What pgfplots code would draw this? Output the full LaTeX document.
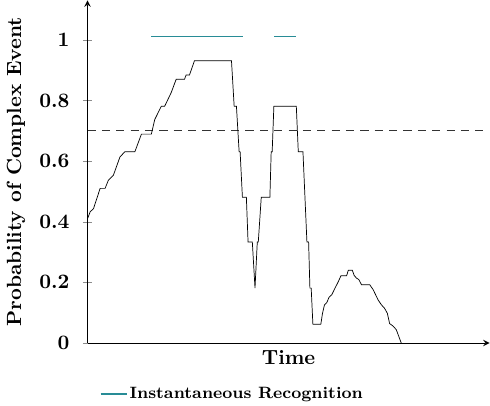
\documentclass[border=0pt]{standalone}
\usepackage{pgfplots}
\pgfplotsset{compat=1.18}
\definecolor{recog}{RGB}{40,140,150}
\begin{document}
\begin{tikzpicture}
\begin{axis}[
  scale only axis,
  width=196pt, height=167pt,
  axis lines=left,
  axis line style={-stealth},
  xmin=84, xmax=489,
  ymin=0, ymax=1.13,
  xtick=\empty,
  ytick={0,0.2,0.4,0.6,0.8,1},
  yticklabels={0,0.2,0.4,0.6,0.8,1},
  yticklabel style={font=\bfseries, xshift=-3pt},
  tick align=center,
  major tick length=4.5pt,
  tick style={black!45},
  xlabel={\textbf{Time}},
  ylabel={\textbf{Probability of Complex Event}},
  xlabel style={yshift=2pt},
  legend style={draw=none, font=\footnotesize\bfseries, at={(0.03,-0.115)}, anchor=north west, inner sep=0pt, nodes={inner xsep=1pt}},
  legend cell align=left,
  clip=false,
]
\addplot[recog, line width=0.5pt, forget plot] coordinates {(148,1.01) (241,1.01)};
\addplot[recog, line width=0.5pt, legend image code/.code={\draw[recog, line width=0.6pt] (0cm,0cm) -- (0.45cm,0cm);}] coordinates {(272,1.01) (294,1.01)};
\addlegendentry{Instantaneous Recognition}
\addplot[black!80, thin, dash pattern=on 4pt off 3pt, forget plot] coordinates {(84,0.7) (489,0.7)};
\addplot[black, line width=0.35pt, forget plot] coordinates {
(84,0.41) (86.7,0.433) (90,0.443) (96.7,0.51) (101.7,0.51) (105,0.537) (110,0.553)
(116.7,0.614) (121.7,0.631) (131.7,0.631) (138.3,0.689) (148.3,0.689) (151.7,0.737)
(158.3,0.781) (161.7,0.781) (168.3,0.826) (173.3,0.87) (181.7,0.87) (183.3,0.884)
(186.7,0.884) (191.7,0.931) (229,0.931) (231.7,0.781) (234,0.781) (236.7,0.631)
(237.7,0.631) (240,0.481) (244,0.481) (245.7,0.333) (250,0.333) (252.7,0.181)
(255,0.333) (256,0.333) (259,0.481) (267.7,0.481) (269,0.631) (270,0.631)
(271.7,0.781) (294.3,0.781) (296.3,0.631) (301,0.631) (305,0.333) (306.7,0.333)
(308,0.181) (309.3,0.181) (311,0.062) (319,0.062) (320.7,0.098) (322.7,0.126)
(325,0.133) (327.3,0.151) (330,0.159) (333.3,0.181) (336.7,0.203) (339.3,0.222)
(345,0.222) (346.7,0.24) (350.7,0.24) (352.7,0.222) (355,0.214) (357.3,0.209)
(360,0.192) (368.3,0.192) (371.7,0.176) (376.7,0.142) (380,0.126) (383.3,0.114)
(386,0.098) (388.3,0.064) (391.7,0.056) (395,0.044) (400,0.0)
};
\end{axis}
\end{tikzpicture}
\end{document}
